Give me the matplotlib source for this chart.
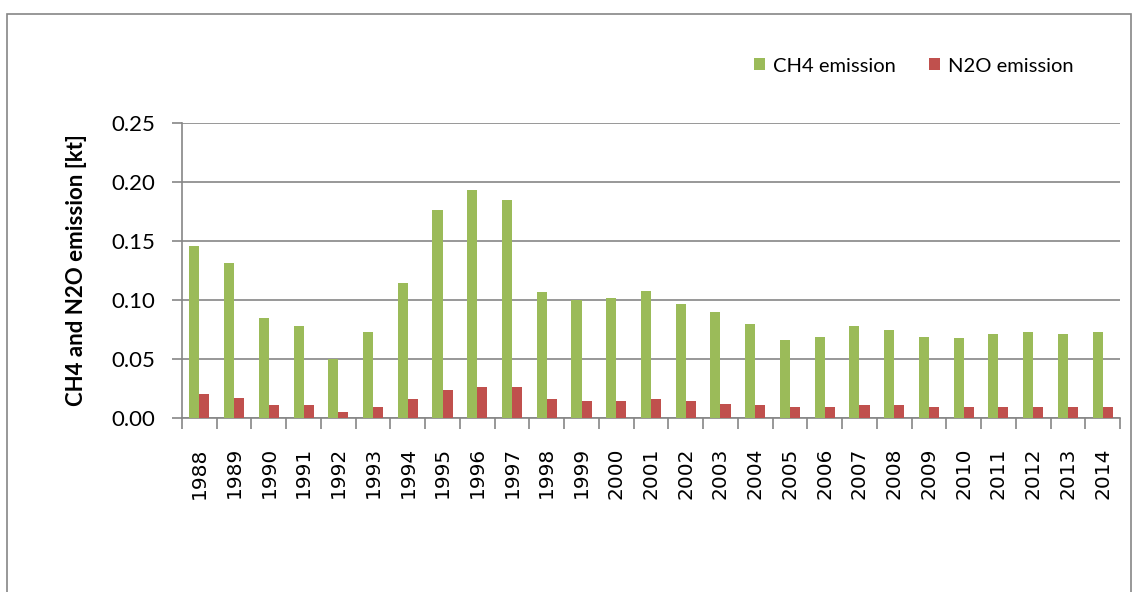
import numpy as np
import matplotlib
matplotlib.use("Agg")
import matplotlib.pyplot as plt
from matplotlib.patches import Rectangle

# data
years = [str(y) for y in range(1988, 2015)]
ch4 = [0.146, 0.131, 0.085, 0.078, 0.050, 0.073, 0.114, 0.176, 0.193, 0.185,
       0.107, 0.100, 0.102, 0.108, 0.097, 0.090, 0.080, 0.066, 0.069, 0.078,
       0.075, 0.069, 0.068, 0.071, 0.073, 0.071, 0.073]
n2o = [0.020, 0.017, 0.011, 0.011, 0.005, 0.009, 0.016, 0.024, 0.026, 0.026,
       0.016, 0.014, 0.014, 0.016, 0.014, 0.012, 0.011, 0.009, 0.009, 0.011,
       0.011, 0.009, 0.009, 0.009, 0.009, 0.009, 0.009]
yticks = [0.00, 0.05, 0.10, 0.15, 0.20, 0.25]

green = "#9BBB59"
red = "#C0504D"
grid_col = "#868686"

plt.rcParams["font.family"] = ["Lato", "DejaVu Sans"]

fig = plt.figure(figsize=(11.4, 5.92), dpi=100)
ax = fig.add_axes([182 / 1140, 1 - 418 / 592, (1120 - 182) / 1140, (418 - 123) / 592])

x = np.arange(len(years))
w = 0.29
ax.bar(x - w / 2, ch4, w, color=green, label="CH4 emission", zorder=3)
ax.bar(x + w / 2, n2o, w, color=red, label="N2O emission", zorder=3)

ax.set_xlim(-0.5, len(years) - 0.5)
ax.set_ylim(0, 0.25)
ax.set_yticks(yticks)
ax.set_yticklabels([f"{v:.2f}" for v in yticks], fontsize=16)
ax.yaxis.grid(True, color=grid_col, linewidth=1.2, zorder=0)
ax.tick_params(axis="y", length=7, width=1.2, color=grid_col, pad=12)

# category labels centred, tick marks on the boundaries
ax.set_xticks(x)
ax.set_xticklabels(years, rotation=90, fontsize=14.5, family="DejaVu Sans")
ax.tick_params(axis="x", length=0, pad=21)
ax.set_xticks(np.arange(len(years) + 1) - 0.5, minor=True)
ax.tick_params(axis="x", which="minor", length=8, width=1.2, color=grid_col)

for s in ["top", "right"]:
    ax.spines[s].set_visible(False)
for s in ["left", "bottom"]:
    ax.spines[s].set_color(grid_col)
    ax.spines[s].set_linewidth(1.2)

ax.set_ylabel("CH4 and N2O emission [kt]", fontsize=16, fontweight="bold", labelpad=18)

ax.legend(loc="center right", bbox_to_anchor=(1084 / 1140, 1 - 66 / 592),
          bbox_transform=fig.transFigure, ncol=2, frameon=False, fontsize=14.5,
          handlelength=0.55, handleheight=0.55, handletextpad=0.4, columnspacing=1.65,
          borderpad=0)

# outer chart frame
fig.patches.append(Rectangle((7 / 1140, -0.05), 1124 / 1140, 1 - 14 / 592 + 0.05,
                             transform=fig.transFigure, fill=False,
                             edgecolor=grid_col, linewidth=1.2))

fig.savefig("out.png", dpi=100)
